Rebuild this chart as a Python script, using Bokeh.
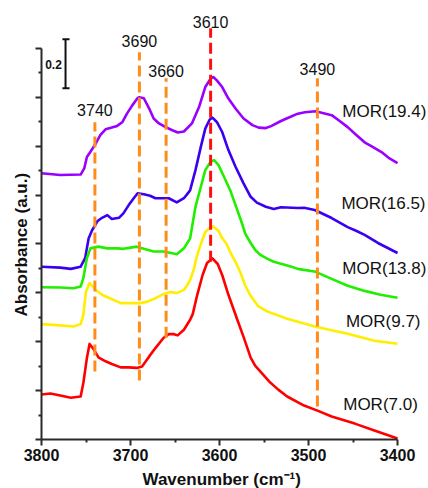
from bokeh.core.properties import value
from bokeh.embed import file_html
from bokeh.models import (ColumnDataSource, CustomJSTickFormatter, FixedTicker,
                          Range1d, Title)
from bokeh.plotting import figure
from bokeh.resources import INLINE

# ---- FTIR spectra of the OH stretching region (offset for clarity) ----
wn_194 = [3800, 3779, 3756, 3752, 3749, 3745, 3739, 3734, 3728, 3722, 3715, 3709,
          3704, 3698, 3692, 3690, 3685, 3679, 3674, 3668, 3661, 3653, 3647, 3640,
          3631, 3623, 3616, 3610, 3607, 3603, 3597, 3590, 3582, 3573, 3563, 3556,
          3548, 3542, 3531, 3524, 3512, 3504, 3492, 3474, 3465, 3456, 3446, 3437,
          3428, 3418, 3409, 3400]
ab_194 = [1.089, 1.082, 1.084, 1.109, 1.156, 1.177, 1.211, 1.245, 1.269, 1.275, 1.283, 1.299,
          1.333, 1.367, 1.397, 1.400, 1.396, 1.354, 1.313, 1.293, 1.279, 1.265, 1.256, 1.260,
          1.293, 1.360, 1.442, 1.476, 1.483, 1.469, 1.442, 1.395, 1.354, 1.313, 1.286, 1.276,
          1.274, 1.282, 1.303, 1.314, 1.333, 1.339, 1.343, 1.327, 1.303, 1.278, 1.245, 1.216,
          1.197, 1.176, 1.150, 1.131]

wn_165 = [3800, 3779, 3767, 3756, 3751, 3747, 3743, 3737, 3732, 3726, 3721, 3713,
          3708, 3702, 3696, 3692, 3685, 3678, 3672, 3664, 3657, 3648, 3640, 3635,
          3633, 3627, 3621, 3616, 3611, 3608, 3603, 3597, 3590, 3582, 3573, 3565,
          3558, 3548, 3539, 3531, 3512, 3505, 3493, 3474, 3456, 3446, 3437, 3422, 3400]
ab_165 = [0.707, 0.703, 0.698, 0.707, 0.742, 0.823, 0.857, 0.894, 0.907, 0.918, 0.902, 0.907,
          0.925, 0.959, 0.989, 1.007, 1.003, 0.997, 0.987, 0.987, 0.987, 0.970, 0.987, 1.010,
          1.020, 1.102, 1.197, 1.272, 1.309, 1.317, 1.299, 1.258, 1.184, 1.116, 1.048, 0.993,
          0.969, 0.952, 0.943, 0.950, 0.947, 0.948, 0.939, 0.906, 0.869, 0.853, 0.837, 0.804, 0.763]

wn_138 = [3800, 3779, 3764, 3756, 3753, 3749, 3745, 3736, 3726, 3715, 3708, 3700,
          3693, 3685, 3674, 3663, 3653, 3648, 3640, 3633, 3627, 3621, 3616, 3610,
          3606, 3601, 3595, 3588, 3582, 3576, 3571, 3565, 3560, 3554, 3546, 3539,
          3530, 3520, 3512, 3492, 3474, 3456, 3437, 3419, 3400]
ab_138 = [0.623, 0.622, 0.619, 0.626, 0.660, 0.742, 0.782, 0.789, 0.782, 0.782, 0.780, 0.785,
          0.789, 0.780, 0.769, 0.769, 0.762, 0.758, 0.782, 0.823, 0.952, 1.034, 1.102, 1.136,
          1.143, 1.122, 1.075, 1.020, 0.959, 0.898, 0.841, 0.804, 0.776, 0.755, 0.739, 0.727,
          0.718, 0.708, 0.698, 0.686, 0.657, 0.629, 0.608, 0.592, 0.580]

wn_97 = [3800, 3779, 3764, 3756, 3753, 3750, 3746, 3739, 3732, 3722, 3711, 3700,
         3689, 3681, 3672, 3663, 3655, 3648, 3640, 3636, 3633, 3629, 3626, 3621,
         3616, 3610, 3607, 3601, 3597, 3592, 3588, 3582, 3576, 3571, 3565, 3557,
         3548, 3542, 3524, 3492, 3456, 3426, 3400]
ab_97 = [0.472, 0.467, 0.462, 0.472, 0.510, 0.605, 0.640, 0.612, 0.592, 0.576, 0.558, 0.558,
         0.558, 0.564, 0.578, 0.595, 0.603, 0.599, 0.612, 0.633, 0.653, 0.694, 0.743, 0.800,
         0.849, 0.869, 0.871, 0.853, 0.824, 0.800, 0.767, 0.727, 0.678, 0.629, 0.588, 0.547,
         0.527, 0.518, 0.494, 0.461, 0.433, 0.404, 0.392]

wn_70 = [3800, 3790, 3779, 3767, 3756, 3753, 3749, 3746, 3741, 3736, 3728, 3721,
         3711, 3702, 3693, 3687, 3679, 3672, 3663, 3657, 3651, 3647, 3640, 3633,
         3630, 3625, 3619, 3614, 3608, 3602, 3597, 3590, 3584, 3580, 3573, 3565,
         3560, 3554, 3543, 3534, 3524, 3505, 3490, 3474, 3448, 3426, 3400]
ab_70 = [0.184, 0.188, 0.180, 0.171, 0.176, 0.231, 0.333, 0.391, 0.367, 0.336, 0.320, 0.309,
         0.295, 0.295, 0.293, 0.299, 0.340, 0.374, 0.415, 0.431, 0.431, 0.426, 0.449, 0.490,
         0.514, 0.592, 0.673, 0.722, 0.741, 0.718, 0.673, 0.592, 0.531, 0.490, 0.420, 0.335,
         0.302, 0.278, 0.233, 0.204, 0.176, 0.139, 0.118, 0.094, 0.065, 0.037, 0.004]

series = [
    (wn_194, ab_194, "#9A00FF"),
    (wn_165, ab_165, "#3A00F2"),
    (wn_138, ab_138, "#22EE00"),
    (wn_97, ab_97, "#FFEE00"),
    (wn_70, ab_70, "#FF0000"),
]

# sample labels
sample_names = ["MOR(19.4)", "MOR(16.5)", "MOR(13.8)", "MOR(9.7)", "MOR(7.0)"]
sample_x = [3462, 3463, 3462, 3458, 3461]
sample_y = [1.343, 0.967, 0.698, 0.482, 0.143]

# band positions (cm-1) with dashed marker extents and label heights
band_pos = [3740, 3690, 3660, 3610, 3490]
band_top = [1.298, 1.584, 1.478, 1.682, 1.478]
band_bottom = [0.278, 0.241, 0.416, 0.727, 0.135]
band_label_y = [1.349, 1.630, 1.508, 1.708, 1.516]
band_color = ["#FF8C1A", "#FF8C1A", "#FF8C1A", "#FF1010", "#FF8C1A"]

x_ticks = [3800, 3700, 3600, 3500, 3400]
x_minor = [3750, 3650, 3550, 3450]
y_ticks = [0.0, 0.2, 0.4, 0.6, 0.8, 1.0, 1.2, 1.4, 1.6]
y_minor = [0.1, 0.3, 0.5, 0.7, 0.9, 1.1, 1.3, 1.5]

SCALE = 0.2          # scale bar length in absorbance units
SCALE_X = 3773
SCALE_Y0 = 1.437

FONT = "Liberation Sans"
AXIS_COLOR = "#2a2a2a"
TEXT_COLOR = "#111111"

p = figure(width=428, height=488, output_backend="svg", toolbar_location=None,
           x_range=Range1d(3800, 3365.2), y_range=Range1d(0, 1.796),
           min_border_left=41, min_border_right=0, min_border_top=0,
           min_border_bottom=48, background_fill_color="white",
           border_fill_color="white", outline_line_color=None)
p.grid.visible = False

for wn, ab, color in series:
    p.line(wn, ab, line_color=color, line_width=2.6, line_join="round")

# dashed band markers and their wavenumber labels
band_src = ColumnDataSource(dict(x=band_pos, y0=band_bottom, y1=band_top, c=band_color,
                                 ly=band_label_y, t=[str(b) for b in band_pos]))
p.segment(x0="x", y0="y0", x1="x", y1="y1", source=band_src, line_color="c",
          line_width=3, line_dash="11 5")
p.text(x="x", y="ly", text="t", source=band_src,
       text_font=value(FONT), text_font_size="16px", text_align="center",
       text_baseline="alphabetic", text_color=TEXT_COLOR)

# sample names
p.text(x=sample_x, y=sample_y, text=sample_names, text_font=value(FONT),
       text_font_size="17px", text_align="left", text_baseline="middle",
       text_color=TEXT_COLOR)

# vertical scale bar
p.segment(x0=[SCALE_X], y0=[SCALE_Y0], x1=[SCALE_X], y1=[SCALE_Y0 + SCALE],
          line_color=TEXT_COLOR, line_width=2)
p.segment(x0=[SCALE_X + 3.5, SCALE_X + 3.5], y0=[SCALE_Y0, SCALE_Y0 + SCALE],
          x1=[SCALE_X - 4.5, SCALE_X - 4.5], y1=[SCALE_Y0, SCALE_Y0 + SCALE],
          line_color=TEXT_COLOR, line_width=2)
p.text(x=[SCALE_X + 13.5], y=[SCALE_Y0 + SCALE / 2 - 0.003], text=[f"{SCALE}"],
       text_font=value(FONT), text_font_size="12px", text_font_style="bold",
       text_align="center", text_baseline="middle", text_color=TEXT_COLOR)

# axes
xa = p.xaxis[0]
xa.ticker = FixedTicker(ticks=x_ticks, minor_ticks=x_minor)
xa.bounds = (3400, 3800)
xa.major_label_text_font = FONT
xa.major_label_text_font_size = "16px"
xa.major_label_text_font_style = "bold"
xa.major_label_text_color = TEXT_COLOR
xa.major_label_standoff = 3

ya = p.yaxis[0]
ya.ticker = FixedTicker(ticks=y_ticks, minor_ticks=y_minor)
ya.bounds = (0, 1.6)
ya.formatter = CustomJSTickFormatter(code="return ''")
ya.major_label_standoff = 5

for ax in (xa, ya):
    ax.axis_line_color = AXIS_COLOR
    ax.axis_line_width = 2
    ax.major_tick_line_color = AXIS_COLOR
    ax.major_tick_line_width = 2
    ax.minor_tick_line_color = AXIS_COLOR
    ax.minor_tick_line_width = 2
    ax.major_tick_in = 0
    ax.major_tick_out = 6
    ax.minor_tick_in = 0
    ax.minor_tick_out = 3

# axis titles (padding given as left, right, top, bottom)
p.add_layout(Title(text="Wavenumber (cm\u207b\u00b9)", align="left", offset=101,
                   standoff=0, padding=(0, 0, 4, 0), text_font=FONT,
                   text_font_size="17px", text_font_style="bold",
                   text_color=TEXT_COLOR), "below")
p.add_layout(Title(text="Absorbance (a.u.)", align="left", offset=123,
                   standoff=10, text_font=FONT, text_font_size="17px",
                   text_font_style="bold", text_color=TEXT_COLOR), "left")

open("out.html", "w").write(file_html(p, INLINE))
